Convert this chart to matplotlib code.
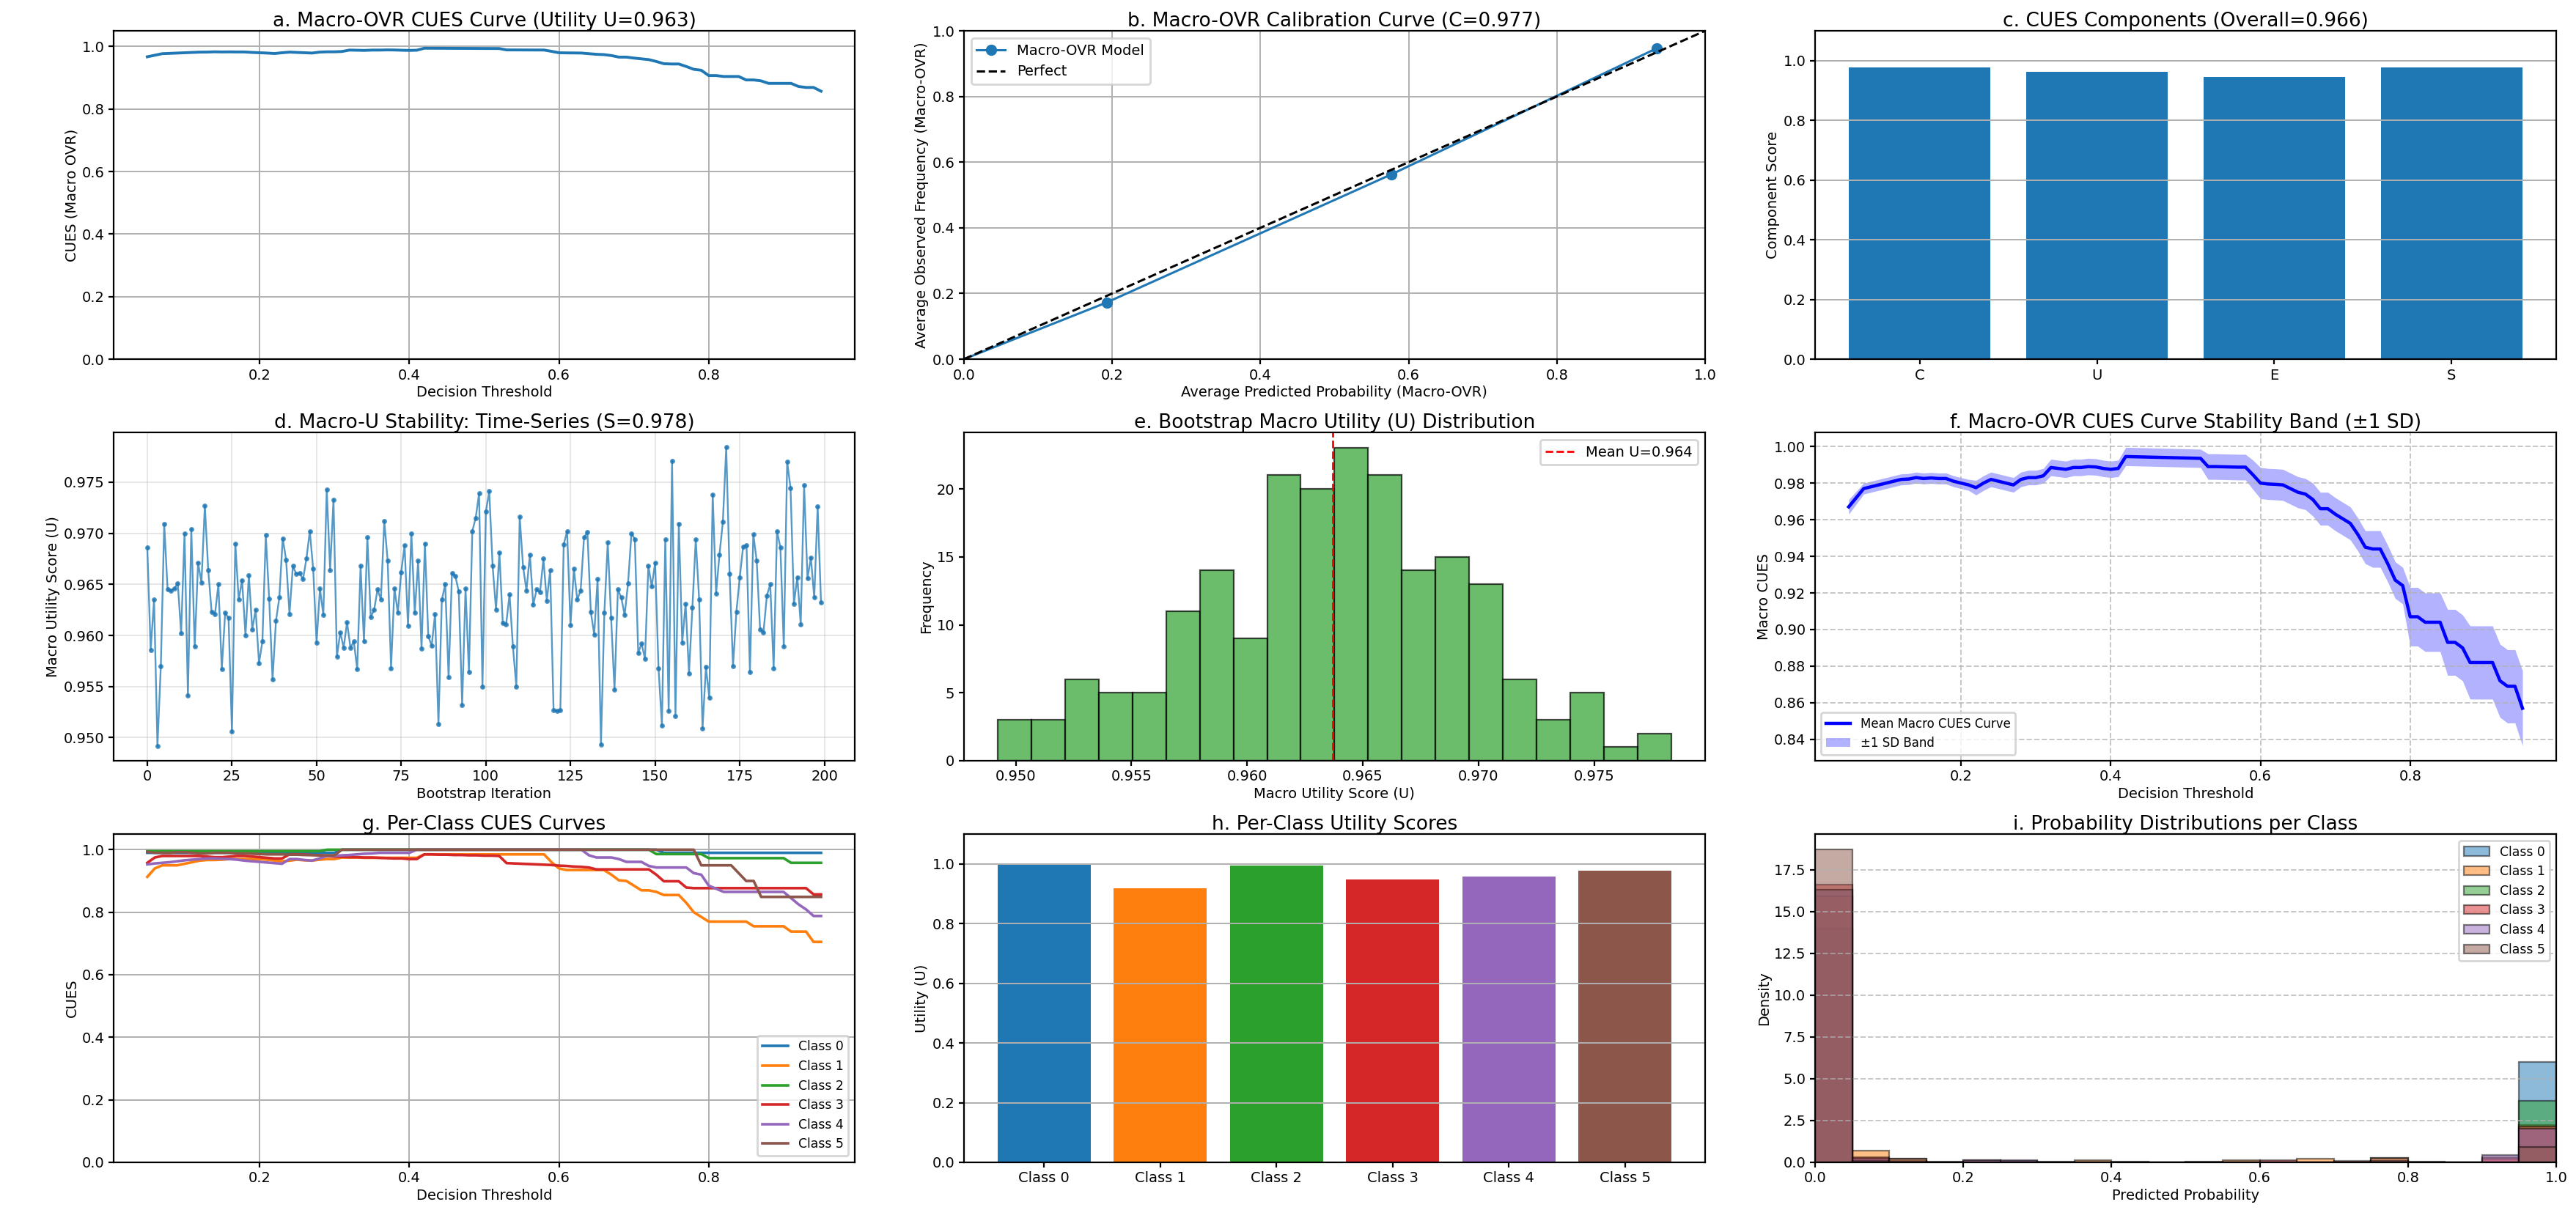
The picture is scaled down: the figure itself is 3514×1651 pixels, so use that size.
import numpy as np
import matplotlib
matplotlib.use("Agg")
import matplotlib.pyplot as plt

# ---------------- data ----------------
thresholds = np.round(np.arange(0.05, 0.955, 0.01), 2)

macro_cues_mean = [
    0.967, 0.972, 0.977, 0.978, 0.979, 0.980, 0.981, 0.982, 0.9822, 0.983,
    0.9825, 0.9828, 0.9825, 0.9825, 0.981, 0.980, 0.979, 0.9775, 0.980, 0.982,
    0.981, 0.980, 0.979, 0.982, 0.983, 0.983, 0.984, 0.9885, 0.988, 0.9875,
    0.9885, 0.9885, 0.989, 0.9888, 0.988, 0.9875, 0.988, 0.9945, 0.9944, 0.9943,
    0.9942, 0.9941, 0.994, 0.9939, 0.9938, 0.9937, 0.9936, 0.9935, 0.989, 0.989,
    0.9889, 0.9888, 0.9887, 0.9887, 0.9845, 0.980, 0.9795, 0.9793, 0.979, 0.977,
    0.975, 0.974, 0.971, 0.966, 0.966, 0.963, 0.9605, 0.958, 0.952, 0.945,
    0.944, 0.944, 0.936, 0.927, 0.924, 0.907, 0.907, 0.904, 0.904, 0.904,
    0.893, 0.893, 0.890, 0.882, 0.882, 0.882, 0.882, 0.872, 0.869, 0.869,
    0.857]

macro_cues_sd = [
    0.0040, 0.0035, 0.0030, 0.0030, 0.0030, 0.0030, 0.0030, 0.0030, 0.0030, 0.0030,
    0.0030, 0.0030, 0.0030, 0.0030, 0.0030, 0.0030, 0.0030, 0.0040, 0.0040, 0.0040,
    0.0040, 0.0040, 0.0040, 0.0040, 0.0040, 0.0040, 0.0040, 0.0045, 0.0045, 0.0045,
    0.0045, 0.0045, 0.0045, 0.0045, 0.0045, 0.0045, 0.0045, 0.0050, 0.0050, 0.0050,
    0.0050, 0.0050, 0.0050, 0.0050, 0.0050, 0.0050, 0.0050, 0.0050, 0.0070, 0.0070,
    0.0070, 0.0070, 0.0070, 0.0070, 0.0080, 0.0085, 0.0085, 0.0085, 0.0085, 0.0085,
    0.0085, 0.0085, 0.0090, 0.0090, 0.0090, 0.0090, 0.0090, 0.0090, 0.0090, 0.0090,
    0.0100, 0.0100, 0.0100, 0.0100, 0.0100, 0.0160, 0.0160, 0.0160, 0.0160, 0.0160,
    0.0180, 0.0180, 0.0180, 0.0200, 0.0200, 0.0200, 0.0200, 0.0200, 0.0200, 0.0200,
    0.0205]

calib_pred = [0.0, 0.193, 0.577, 0.935]
calib_obs = [0.0, 0.173, 0.563, 0.947]

component_names = ["C", "U", "E", "S"]
component_scores = [0.977, 0.963, 0.946, 0.978]

boot_u = [
    0.9686, 0.9586, 0.9635, 0.9492, 0.9570, 0.9709, 0.9645, 0.9644, 0.9646, 0.9651,
    0.9602, 0.9700, 0.9541, 0.9704, 0.9589, 0.9671, 0.9652, 0.9727, 0.9664, 0.9623,
    0.9621, 0.9650, 0.9567, 0.9622, 0.9617, 0.9506, 0.9690, 0.9635, 0.9654, 0.9600,
    0.9659, 0.9606, 0.9625, 0.9573, 0.9594, 0.9698, 0.9636, 0.9557, 0.9614, 0.9637,
    0.9695, 0.9674, 0.9621, 0.9668, 0.9660, 0.9661, 0.9655, 0.9675, 0.9702, 0.9665,
    0.9593, 0.9646, 0.9620, 0.9743, 0.9664, 0.9733, 0.9579, 0.9603, 0.9588, 0.9613,
    0.9588, 0.9594, 0.9567, 0.9668, 0.9594, 0.9696, 0.9618, 0.9625, 0.9645, 0.9635,
    0.9712, 0.9673, 0.9568, 0.9646, 0.9622, 0.9662, 0.9688, 0.9609, 0.9700, 0.9622,
    0.9673, 0.9587, 0.9690, 0.9599, 0.9590, 0.9621, 0.9513, 0.9635, 0.9650, 0.9559,
    0.9661, 0.9658, 0.9643, 0.9532, 0.9646, 0.9564, 0.9702, 0.9715, 0.9739, 0.9550,
    0.9721, 0.9741, 0.9668, 0.9625, 0.9681, 0.9612, 0.9611, 0.9640, 0.9589, 0.9550,
    0.9716, 0.9667, 0.9644, 0.9679, 0.9630, 0.9645, 0.9642, 0.9675, 0.9634, 0.9664,
    0.9527, 0.9526, 0.9527, 0.9689, 0.9702, 0.9610, 0.9665, 0.9635, 0.9644, 0.9696,
    0.9701, 0.9623, 0.9601, 0.9655, 0.9493, 0.9622, 0.9691, 0.9617, 0.9547, 0.9645,
    0.9637, 0.9620, 0.9651, 0.9700, 0.9694, 0.9583, 0.9592, 0.9577, 0.9668, 0.9648,
    0.9671, 0.9568, 0.9512, 0.9694, 0.9526, 0.9771, 0.9521, 0.9709, 0.9593, 0.9631,
    0.9563, 0.9627, 0.9694, 0.9635, 0.9509, 0.9569, 0.9539, 0.9738, 0.9641, 0.9679,
    0.9711, 0.9784, 0.9660, 0.9570, 0.9623, 0.9657, 0.9687, 0.9688, 0.9564, 0.9699,
    0.9673, 0.9606, 0.9603, 0.9639, 0.9650, 0.9568, 0.9702, 0.9686, 0.9589, 0.9770,
    0.9744, 0.9631, 0.9657, 0.9611, 0.9747, 0.9656, 0.9676, 0.9637, 0.9726, 0.9632]

hist_counts = [3, 3, 6, 5, 5, 11, 14, 9, 21, 20, 23, 21, 14, 15, 13, 6, 3, 5, 1, 2]
hist_range = [0.94922, 0.97834]
mean_u = 0.9637

class_names = ["Class 0", "Class 1", "Class 2", "Class 3", "Class 4", "Class 5"]

cues_class0 = [
    0.99, 0.99, 0.99, 0.99, 0.99, 0.99, 0.99, 0.99, 0.99, 0.99,
    0.99, 0.99, 0.99, 0.99, 0.99, 0.99, 0.99, 0.99, 0.99, 0.99,
    0.99, 0.99, 0.99, 0.99, 0.99, 0.99, 1.0, 1.0, 1.0, 1.0,
    1.0, 1.0, 1.0, 1.0, 1.0, 1.0, 1.0, 1.0, 1.0, 1.0,
    1.0, 1.0, 1.0, 1.0, 1.0, 1.0, 1.0, 1.0, 1.0, 1.0,
    1.0, 1.0, 1.0, 1.0, 1.0, 1.0, 1.0, 1.0, 1.0, 1.0,
    1.0, 1.0, 1.0, 1.0, 1.0, 1.0, 1.0, 1.0, 1.0, 0.99,
    0.99, 0.99, 0.99, 0.99, 0.99, 0.99, 0.99, 0.99, 0.99, 0.99,
    0.99, 0.99, 0.99, 0.99, 0.99, 0.99, 0.99, 0.99, 0.99, 0.99,
    0.99]
cues_class1 = [
    0.913, 0.940, 0.950, 0.950, 0.950, 0.955, 0.960, 0.965, 0.967, 0.967,
    0.968, 0.970, 0.970, 0.970, 0.970, 0.970, 0.968, 0.965, 0.963, 0.965,
    0.968, 0.966, 0.965, 0.968, 0.970, 0.970, 0.975, 0.975, 0.975, 0.974,
    0.974, 0.974, 0.974, 0.974, 0.974, 0.974, 0.974, 0.985, 0.985, 0.985,
    0.985, 0.985, 0.985, 0.985, 0.985, 0.985, 0.985, 0.985, 0.985, 0.985,
    0.985, 0.985, 0.985, 0.985, 0.960, 0.940, 0.935, 0.935, 0.935, 0.935,
    0.935, 0.935, 0.920, 0.902, 0.900, 0.885, 0.870, 0.870, 0.865, 0.855,
    0.855, 0.855, 0.830, 0.800, 0.785, 0.770, 0.770, 0.770, 0.770, 0.770,
    0.770, 0.755, 0.755, 0.755, 0.755, 0.755, 0.738, 0.738, 0.738, 0.705,
    0.705]
cues_class2 = [
    0.995, 0.995, 0.995, 0.995, 0.995, 0.995, 0.995, 0.995, 0.995, 0.995,
    0.995, 0.995, 0.995, 0.995, 0.995, 0.995, 0.995, 0.995, 0.995, 0.995,
    0.995, 0.995, 0.995, 0.995, 1.0, 1.0, 1.0, 1.0, 1.0, 1.0,
    1.0, 1.0, 1.0, 1.0, 1.0, 1.0, 1.0, 1.0, 1.0, 1.0,
    1.0, 1.0, 1.0, 1.0, 1.0, 1.0, 1.0, 1.0, 1.0, 1.0,
    1.0, 1.0, 1.0, 1.0, 1.0, 1.0, 1.0, 1.0, 1.0, 1.0,
    1.0, 1.0, 1.0, 1.0, 1.0, 1.0, 1.0, 1.0, 0.986, 0.986,
    0.986, 0.986, 0.986, 0.986, 0.986, 0.973, 0.973, 0.973, 0.973, 0.973,
    0.973, 0.973, 0.973, 0.973, 0.973, 0.973, 0.958, 0.958, 0.958, 0.958,
    0.958]
cues_class3 = [
    0.958, 0.975, 0.980, 0.980, 0.980, 0.980, 0.980, 0.980, 0.978, 0.976,
    0.976, 0.978, 0.980, 0.980, 0.978, 0.976, 0.974, 0.972, 0.972, 0.985,
    0.985, 0.984, 0.983, 0.982, 0.980, 0.978, 0.977, 0.976, 0.976, 0.975,
    0.975, 0.974, 0.973, 0.972, 0.972, 0.970, 0.970, 0.985, 0.985, 0.984,
    0.984, 0.983, 0.983, 0.982, 0.982, 0.981, 0.981, 0.980, 0.957, 0.956,
    0.955, 0.954, 0.953, 0.952, 0.951, 0.949, 0.948, 0.946, 0.945, 0.943,
    0.937, 0.937, 0.937, 0.937, 0.937, 0.937, 0.937, 0.937, 0.920, 0.899,
    0.899, 0.899, 0.879, 0.877, 0.877, 0.877, 0.877, 0.877, 0.877, 0.877,
    0.877, 0.877, 0.877, 0.877, 0.877, 0.877, 0.877, 0.877, 0.877, 0.857,
    0.857]
cues_class4 = [
    0.953, 0.956, 0.958, 0.960, 0.963, 0.966, 0.968, 0.970, 0.972, 0.972,
    0.971, 0.970, 0.968, 0.965, 0.963, 0.961, 0.959, 0.957, 0.955, 0.970,
    0.970, 0.967, 0.965, 0.972, 0.980, 0.980, 0.982, 0.983, 0.985, 0.987,
    0.988, 0.990, 0.990, 0.990, 0.990, 0.990, 1.0, 1.0, 1.0, 1.0,
    1.0, 1.0, 1.0, 1.0, 1.0, 1.0, 1.0, 1.0, 1.0, 1.0,
    1.0, 1.0, 1.0, 1.0, 1.0, 1.0, 1.0, 1.0, 1.0, 0.982,
    0.975, 0.975, 0.975, 0.970, 0.961, 0.961, 0.961, 0.948, 0.943, 0.943,
    0.943, 0.943, 0.943, 0.925, 0.920, 0.885, 0.875, 0.865, 0.865, 0.865,
    0.865, 0.865, 0.865, 0.865, 0.865, 0.865, 0.845, 0.825, 0.809, 0.788,
    0.788]
cues_class5 = [
    0.993, 0.990, 0.990, 0.990, 0.992, 0.992, 0.990, 0.988, 0.988, 0.990,
    0.990, 0.990, 0.988, 0.988, 0.987, 0.986, 0.985, 0.985, 0.985, 0.984,
    0.984, 0.983, 0.983, 0.982, 0.982, 0.982, 1.0, 1.0, 1.0, 1.0,
    1.0, 1.0, 1.0, 1.0, 1.0, 1.0, 1.0, 1.0, 1.0, 1.0,
    1.0, 1.0, 1.0, 1.0, 1.0, 1.0, 1.0, 1.0, 1.0, 1.0,
    1.0, 1.0, 1.0, 1.0, 1.0, 1.0, 1.0, 1.0, 1.0, 1.0,
    1.0, 1.0, 1.0, 1.0, 1.0, 1.0, 1.0, 1.0, 1.0, 1.0,
    1.0, 1.0, 1.0, 1.0, 0.950, 0.950, 0.950, 0.950, 0.950, 0.925,
    0.900, 0.900, 0.849, 0.849, 0.849, 0.849, 0.849, 0.849, 0.849, 0.849,
    0.849]
per_class_cues = [cues_class0, cues_class1, cues_class2,
                  cues_class3, cues_class4, cues_class5]

class_utility = [0.998, 0.918, 0.994, 0.949, 0.957, 0.977]

# density heights of the 20 probability bins (0.00-0.05, ..., 0.95-1.00)
dens_class0 = [14.0, 0.0, 0.0, 0.0, 0.0, 0.0, 0.0, 0.0, 0.0, 0.0,
               0.0, 0.0, 0.0, 0.0, 0.0, 0.0, 0.0, 0.0, 0.0, 6.0]
dens_class1 = [15.9, 0.7, 0.2, 0.0, 0.0, 0.0, 0.0, 0.15, 0.05, 0.0,
               0.0, 0.15, 0.0, 0.2, 0.0, 0.25, 0.0, 0.0, 0.3, 2.25]
dens_class2 = [16.3, 0.0, 0.0, 0.0, 0.0, 0.0, 0.0, 0.0, 0.0, 0.0,
               0.0, 0.0, 0.0, 0.0, 0.0, 0.0, 0.0, 0.0, 0.0, 3.7]
dens_class3 = [16.6, 0.3, 0.1, 0.0, 0.15, 0.1, 0.0, 0.0, 0.0, 0.0,
               0.0, 0.0, 0.15, 0.0, 0.1, 0.1, 0.0, 0.0, 0.2, 2.15]
dens_class4 = [16.3, 0.2, 0.05, 0.0, 0.15, 0.15, 0.0, 0.0, 0.0, 0.0,
               0.0, 0.0, 0.0, 0.0, 0.0, 0.1, 0.0, 0.0, 0.45, 2.0]
dens_class5 = [18.7, 0.1, 0.2, 0.05, 0.0, 0.0, 0.05, 0.0, 0.0, 0.0,
               0.05, 0.0, 0.0, 0.0, 0.0, 0.25, 0.05, 0.0, 0.0, 0.9]
prob_density = [dens_class0, dens_class1, dens_class2,
                dens_class3, dens_class4, dens_class5]

# ---------------- style ----------------
plt.rcParams.update({
    "font.family": ["DejaVu Sans"],
    "font.size": 7,
    "axes.titlesize": 9.5,
    "axes.labelsize": 7,
    "xtick.labelsize": 7,
    "ytick.labelsize": 7,
    "legend.fontsize": 7,
    "axes.linewidth": 0.8,
    "grid.linewidth": 0.7,
    "xtick.major.width": 0.8,
    "ytick.major.width": 0.8,
    "xtick.major.size": 2.5,
    "ytick.major.size": 2.5,
    "xtick.major.pad": 2,
    "ytick.major.pad": 2,
    "axes.labelpad": 1.5,
    "axes.titlepad": 2,
})
tab = plt.rcParams["axes.prop_cycle"].by_key()["color"]

fig = plt.figure(figsize=(17.57, 8.255), dpi=200)
lefts = [0.0441, 0.3742, 0.7046]
bottoms = [0.7032, 0.3713, 0.0394]
W, H = 0.2877, 0.2713
axs = [[fig.add_axes([l, b, W, H]) for l in lefts] for b in bottoms]

# a
ax = axs[0][0]
ax.plot(thresholds, macro_cues_mean, color=tab[0], lw=1.4)
ax.set_ylim(0, 1.05)
ax.set_title("a. Macro-OVR CUES Curve (Utility U=0.963)")
ax.set_xlabel("Decision Threshold")
ax.set_ylabel("CUES (Macro OVR)")
ax.grid(True)

# b
ax = axs[0][1]
ax.plot(calib_pred, calib_obs, marker="o", markevery=[1, 2, 3], ms=4.5,
        lw=1.1, color=tab[0], label="Macro-OVR Model")
ax.plot([0, 1], [0, 1], "k--", lw=1.1, label="Perfect")
ax.set_xlim(0, 1)
ax.set_ylim(0, 1)
ax.set_title("b. Macro-OVR Calibration Curve (C=0.977)")
ax.set_xlabel("Average Predicted Probability (Macro-OVR)")
ax.set_ylabel("Average Observed Frequency (Macro-OVR)")
ax.legend(loc="upper left")
ax.grid(True)

# c
ax = axs[0][2]
ax.bar(component_names, component_scores, color=tab[0])
ax.set_ylim(0, 1.1)
ax.set_title("c. CUES Components (Overall=0.966)")
ax.set_ylabel("Component Score")
ax.grid(True, axis="y")

# d
ax = axs[1][0]
ax.plot(np.arange(len(boot_u)), boot_u, marker="o", ms=1.5, lw=0.85,
        color=tab[0], alpha=0.75)
ax.set_title("d. Macro-U Stability: Time-Series (S=0.978)")
ax.set_xlabel("Bootstrap Iteration")
ax.set_ylabel("Macro Utility Score (U)")
ax.grid(True, alpha=0.3)

# e
ax = axs[1][1]
edges = np.linspace(hist_range[0], hist_range[1], len(hist_counts) + 1)
centers = (edges[:-1] + edges[1:]) / 2
ax.hist(centers, bins=edges, weights=hist_counts, color=tab[2], alpha=0.7,
        edgecolor="black", linewidth=0.8)
ax.axvline(mean_u, color="red", ls="--", lw=1.0,
           label=f"Mean U={mean_u:.3f}")
ax.set_title("e. Bootstrap Macro Utility (U) Distribution")
ax.set_xlabel("Macro Utility Score (U)")
ax.set_ylabel("Frequency")
ax.legend(loc="upper right")

# f
ax = axs[1][2]
mean_arr = np.array(macro_cues_mean)
sd_arr = np.array(macro_cues_sd)
ax.plot(thresholds, mean_arr, color="blue", lw=1.6, label="Mean Macro CUES Curve")
ax.fill_between(thresholds, mean_arr - sd_arr, mean_arr + sd_arr,
                color="blue", alpha=0.3, lw=0, label="±1 SD Band")
ax.set_title("f. Macro-OVR CUES Curve Stability Band (±1 SD)")
ax.set_xlabel("Decision Threshold")
ax.set_ylabel("Macro CUES")
ax.legend(loc="lower left", fontsize=6)
ax.grid(True, ls="--", alpha=0.7)

# g
ax = axs[2][0]
for k, vals in enumerate(per_class_cues):
    ax.plot(thresholds, vals, lw=1.3, color=tab[k], label=class_names[k])
ax.set_ylim(0, 1.05)
ax.set_title("g. Per-Class CUES Curves")
ax.set_xlabel("Decision Threshold")
ax.set_ylabel("CUES")
ax.legend(loc="lower right", fontsize=6.2)
ax.grid(True)

# h
ax = axs[2][1]
ax.bar(class_names, class_utility, color=tab[:6])
ax.set_ylim(0, 1.1)
ax.set_title("h. Per-Class Utility Scores")
ax.set_ylabel("Utility (U)")
ax.grid(True, axis="y")

# i
ax = axs[2][2]
pbins = np.linspace(0, 1, 21)
pcent = (pbins[:-1] + pbins[1:]) / 2
for k, dens in enumerate(prob_density):
    ax.hist(pcent, bins=pbins, weights=dens, alpha=0.5, color=tab[k],
            edgecolor="black", linewidth=0.8, label=class_names[k])
ax.set_xlim(0, 1)
ax.set_title("i. Probability Distributions per Class")
ax.set_xlabel("Predicted Probability")
ax.set_ylabel("Density")
ax.legend(loc="upper right", fontsize=6.2)
ax.grid(True, axis="y", ls="--", alpha=0.7)

fig.savefig("out.png", dpi=200)
